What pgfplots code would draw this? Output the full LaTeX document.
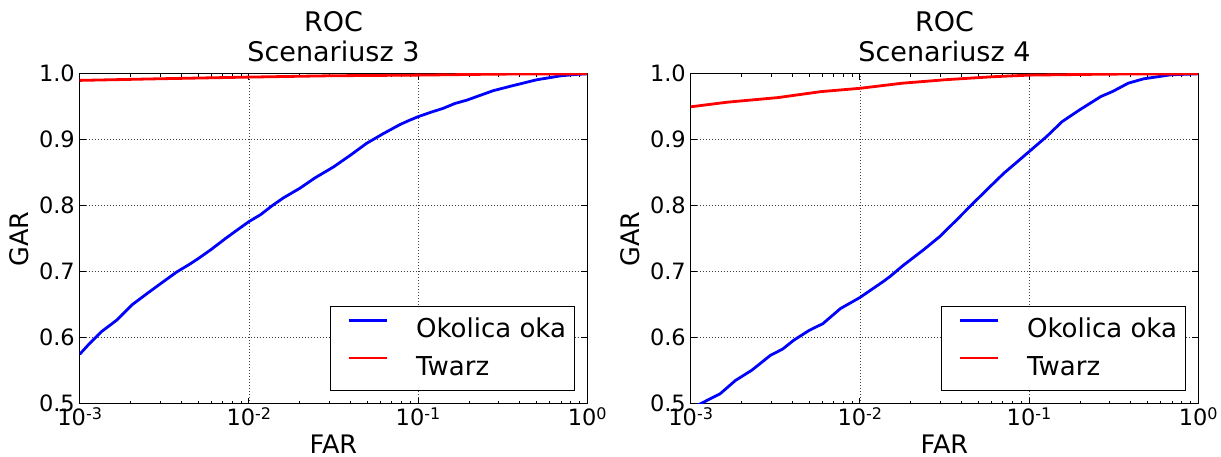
\documentclass[border=0pt]{standalone}
\usepackage{fontspec}
\setmainfont{DejaVu Sans}
\usepackage{pgfplots}
\pgfplotsset{compat=1.18}

\newcommand\tp[1]{10\raisebox{6pt}{\fontsize{16}{16}\selectfont #1}}

\pgfplotsset{
  every axis/.append style={
  width=507.5pt, height=330pt, scale only axis,
  xmin=0.001, xmax=1, ymin=0.5, ymax=1,
  xtick={0.001,0.01,0.1,1},
  xticklabels={\tp{-3},\tp{-2},\tp{-1},\tp{0}},
  minor xtick={0.002,0.003,0.004,0.005,0.006,0.007,0.008,0.009,0.02,0.03,0.04,0.05,0.06,0.07,0.08,0.09,0.2,0.3,0.4,0.5,0.6,0.7,0.8,0.9},
  ytick={0.5,0.6,0.7,0.8,0.9,1.0},
  yticklabels={0.5,0.6,0.7,0.8,0.9,1.0},
  tick align=inside, major tick length=6pt, minor tick length=3pt,
  axis line style={black, line width=1pt},
  xmajorgrids, ymajorgrids,
  major grid style={black!75, line width=0.7pt, dash pattern=on 1pt off 2pt},
  ticklabel style={font=\fontsize{22.5}{22.5}\selectfont},
  xticklabel style={anchor=north, inner sep=0pt, yshift=-4pt},
  yticklabel style={anchor=east, inner sep=0pt, xshift=-4.7pt},
  title style={at={(axis description cs:0.5,1)}, anchor=south, inner sep=0pt, yshift=5.5pt, align=center, font=\fontsize{27}{30.6}\selectfont},
  xlabel style={at={(axis description cs:0.5,-0.1506)}, anchor=base, inner sep=0pt, font=\fontsize{25.5}{25.5}\selectfont},
  ylabel style={at={(axis description cs:-0.12,0.5)}, anchor=center, inner sep=0pt, font=\fontsize{25.5}{25.5}\selectfont},
  xlabel=FAR, ylabel=GAR,
  legend style={at={(axis description cs:1,0)}, anchor=south east, xshift=-12.3pt, yshift=12.8pt, draw=black, line width=0.8pt, font=\fontsize{26}{26}\selectfont, inner xsep=8.5pt, inner ysep=12.3pt, row sep=15.5pt, nodes={inner sep=0pt, text height=18.9pt, text depth=3pt}},
  legend cell align=left,
  },
  every tick/.style={black, line width=0.8pt},
  legend image code/.code={\draw[#1, line width=2.8pt] (0pt,9.3pt) -- (38pt,9.3pt); \path (-8.5pt,0pt) (66pt,0pt);},
}

\begin{document}
\begin{tikzpicture}
\begin{semilogxaxis}[at={(0pt,0pt)}, anchor=south west, title={ROC\\Scenariusz 3}]
\addplot[blue, line width=2.8pt] coordinates {
(0.001,0.575)(0.00114,0.591)(0.00134,0.609)(0.00165,0.6265)(0.00204,0.650)(0.0025,0.667)(0.00312,0.685)(0.00376,0.700)(0.0045,0.712)(0.00502,0.720)(0.006,0.734)(0.00728,0.7505)(0.0085,0.763)(0.01,0.776)(0.0118,0.787)(0.0137,0.800)(0.0160,0.812)(0.02,0.8265)(0.0245,0.842)(0.0317,0.859)(0.040,0.877)(0.0497,0.8947)(0.062,0.909)(0.0781,0.923)(0.088,0.929)(0.1,0.935)(0.12,0.942)(0.141,0.9477)(0.165,0.955)(0.194,0.960)(0.278,0.9744)(0.35,0.981)(0.502,0.9909)(0.7,0.997)(0.853,0.999)(1,1)};
\addlegendentry{Okolica oka}
\addplot[red, line width=2.8pt] coordinates {
(0.001,0.990)(0.003,0.9925)(0.01,0.995)(0.03,0.997)(0.1,0.998)(0.3,0.9995)(1,1)};
\addlegendentry{Twarz}
\end{semilogxaxis}
\begin{semilogxaxis}[at={(611pt,0pt)}, anchor=south west, title={ROC\\Scenariusz 4}]
\addplot[blue, line width=2.8pt] coordinates {
(0.001,0.493)(0.00114,0.500)(0.00149,0.515)(0.00184,0.5354)(0.0023,0.551)(0.00296,0.5734)(0.0035,0.583)(0.00406,0.5962)(0.005,0.611)(0.00605,0.6215)(0.00767,0.6442)(0.01,0.661)(0.0137,0.685)(0.0151,0.693)(0.0179,0.709)(0.0237,0.733)(0.0297,0.7535)(0.0373,0.7785)(0.0468,0.804)(0.0588,0.829)(0.0709,0.8492)(0.0832,0.8644)(0.1,0.882)(0.127,0.9049)(0.157,0.9276)(0.199,0.9453)(0.266,0.9656)(0.312,0.9732)(0.386,0.9858)(0.476,0.9924)(0.69,0.9985)(1,1)};
\addlegendentry{Okolica oka}
\addplot[red, line width=2.8pt] coordinates {
(0.001,0.950)(0.00165,0.957)(0.00329,0.964)(0.00589,0.973)(0.01,0.978)(0.0179,0.9858)(0.032,0.991)(0.0605,0.9955)(0.1,0.998)(0.3,0.9995)(1,1)};
\addlegendentry{Twarz}
\end{semilogxaxis}
\pgfresetboundingbox
\path[use as bounding box] (-79.7pt,-53.2pt) rectangle (1141.3pt,403.8pt);
\end{tikzpicture}
\end{document}
